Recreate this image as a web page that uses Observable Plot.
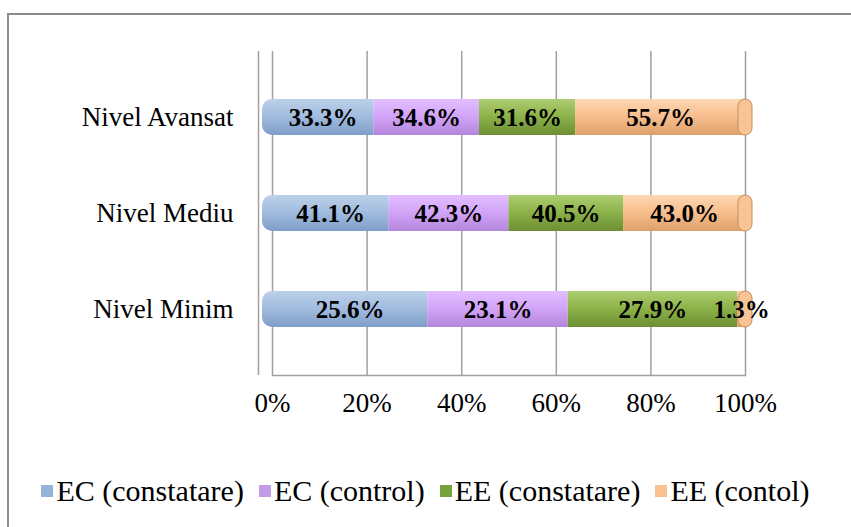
<!DOCTYPE html>
<html>
<head>
<meta charset="utf-8">
<script src="https://cdn.jsdelivr.net/npm/d3@7"></script>
<script src="https://cdn.jsdelivr.net/npm/@observablehq/plot@0.6"></script>
<style>
  html, body { margin: 0; padding: 0; background: #fff; width: 851px; height: 527px; overflow: hidden; }
  #page { position: relative; width: 851px; height: 527px; font-family: "Liberation Serif", "Times New Roman", serif; }
  #border { position: absolute; left: 7px; top: 13px; width: 860px; height: 540px; border: 2px solid #8c8c8c; box-sizing: border-box; }
  #chart { position: absolute; left: 0; top: 0; }
  #legend { position: absolute; left: 0; top: 474px; width: 851px; display: flex; justify-content: center; gap: 15px; font-size: 30px; color: #000; white-space: nowrap; }
  #legend .item { display: flex; align-items: center; gap: 3px; }
  #legend .sw { width: 12px; height: 12px; display: inline-block; }
</style>
</head>
<body>
<div id="page">
  <div id="border"></div>
  <div id="chart"></div>
  <div id="legend"></div>
</div>
<script>
const levels = ["Nivel Avansat", "Nivel Mediu", "Nivel Minim"];
const series = ["EC (constatare)", "EC (control)", "EE (constatare)", "EE (contol)"];
const ecConstatare = [33.3, 41.1, 25.6];
const ecControl = [34.6, 42.3, 23.1];
const eeConstatare = [31.6, 40.5, 27.9];
const eeControl = [55.7, 43.0, 1.3];
const xTicks = [0, 0.2, 0.4, 0.6, 0.8, 1];
const legendColors = ["#95B3D7", "#C39BE6", "#77A33B", "#FAC090"];
const gradStops = [
  ["#BCD0E8", "#A4BEE0", "#7E9DC8"],
  ["#E2BEFF", "#D4A6F9", "#B485DC"],
  ["#ADCD72", "#8FB44B", "#6C8F34"],
  ["#FCD6B4", "#F9C08F", "#DDA06C"]
];

const seriesValues = [ecConstatare, ecControl, eeConstatare, eeControl];
const data = [];
levels.forEach((lv, i) => {
  series.forEach((s, j) => data.push({level: lv, series: s, value: seriesValues[j][i]}));
});
const totals = levels.map((lv, i) => seriesValues.reduce((a, arr) => a + arr[i], 0));
const ends = levels.map((lv, i) => ({level: lv, first: seriesValues[0][i] / totals[i], lastStart: 1 - seriesValues[3][i] / totals[i]}));
const fills = series.map((s, j) => `url(#cyl${j})`);

const plot = Plot.plot({
  width: 851,
  height: 460,
  marginLeft: 272,
  marginRight: 106,
  marginTop: 51,
  marginBottom: 85,
  style: {fontFamily: "Liberation Serif, Times New Roman, serif", fontSize: "27px", color: "#000", background: "transparent"},
  x: {domain: [0, 1], ticks: xTicks, tickFormat: d => Math.round(d * 100) + "%", tickSize: 0, tickPadding: 17, label: null},
  y: {domain: levels, paddingInner: 0.625, paddingOuter: 0.5, label: null, tickSize: 0, tickPadding: 39},
  color: {domain: series, range: fills, type: "ordinal"},
  marks: [
    Plot.ruleX(xTicks, {stroke: "#a0a0a0", strokeWidth: 1.5}),
    Plot.ruleX([0], {stroke: "#a0a0a0", strokeWidth: 1.5, dx: -14}),
    Plot.frame({anchor: "bottom", stroke: "#a0a0a0", strokeWidth: 1.5}),
    Plot.barX(ends, {x1: 0, x2: "first", y: "level", fill: fills[0], rx: 10, insetLeft: -10}),
    Plot.barX(ends, {x1: "lastStart", x2: 1, y: "level", fill: fills[3], rx: 10, insetRight: -6}),
    Plot.barX(data, Plot.stackX({x: "value", y: "level", fill: "series", order: series, offset: "normalize"})),
    Plot.barX(ends, {x1: 1, x2: 1, y: "level", fill: "#F8C496", stroke: "#C98D5A", strokeWidth: 1, rx: 7, insetLeft: -7, insetRight: -7}),
    Plot.text(data, Plot.stackX({x: "value", y: "level", z: "series", order: series, offset: "normalize",
      text: d => d.value.toFixed(1) + "%", fontWeight: "bold", fontSize: 25, fill: "#000"}))
  ]
});

const ns = "http://www.w3.org/2000/svg";
const defs = document.createElementNS(ns, "defs");
gradStops.forEach((st, j) => {
  const g = document.createElementNS(ns, "linearGradient");
  g.setAttribute("id", `cyl${j}`);
  g.setAttribute("x1", "0"); g.setAttribute("y1", "0"); g.setAttribute("x2", "0"); g.setAttribute("y2", "1");
  [[0, st[0]], [0.45, st[1]], [1, st[2]]].forEach(([o, c]) => {
    const s = document.createElementNS(ns, "stop");
    s.setAttribute("offset", o); s.setAttribute("stop-color", c);
    g.appendChild(s);
  });
  defs.appendChild(g);
});
plot.insertBefore(defs, plot.firstChild);
document.getElementById("chart").appendChild(plot);

const legend = document.getElementById("legend");
series.forEach((s, j) => {
  const it = document.createElement("span");
  it.className = "item";
  it.innerHTML = `<span class="sw" style="background:${legendColors[j]}"></span><span>${s}</span>`;
  legend.appendChild(it);
});
</script>
</body>
</html>
